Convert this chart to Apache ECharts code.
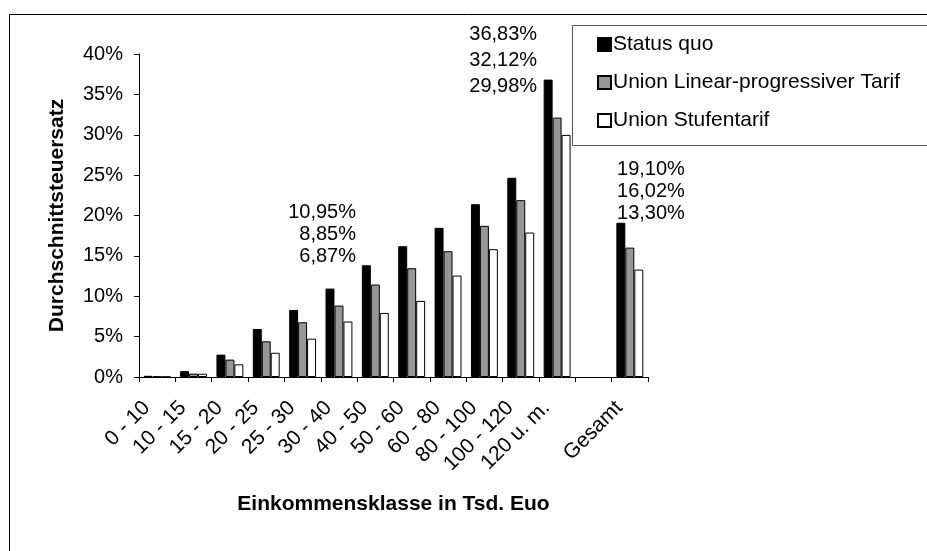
<!DOCTYPE html>
<html>
<head>
<meta charset="utf-8">
<script src="https://cdn.jsdelivr.net/npm/echarts@6/dist/echarts.min.js"></script>
<style>
html,body{margin:0;padding:0;background:#fff;}
#chart{width:927px;height:551px;}
</style>
</head>
<body>
<div id="chart"></div>
<script>
const categories = ['0 - 10','10 - 15','15 - 20','20 - 25','25 - 30','30 - 40','40 - 50','50 - 60','60 - 80','80 - 100','100 - 120','120 u. m.','','Gesamt'];
const statusQuo = [0.15, 0.72, 2.77, 5.95, 8.30, 10.95, 13.84, 16.20, 18.47, 21.40, 24.67, 36.83, null, 19.10];
const linearProg = [0.06, 0.42, 2.15, 4.42, 6.78, 8.85, 11.45, 13.47, 15.58, 18.72, 21.90, 32.12, null, 16.02];
const stufentarif = [0.03, 0.40, 1.57, 3.00, 4.75, 6.87, 7.93, 9.42, 12.56, 15.83, 17.89, 29.98, null, 13.30];
const seriesNames = ['Status quo', 'Union Linear-progressiver Tarif', 'Union Stufentarif'];
const yTicks = [0, 5, 10, 15, 20, 25, 30, 35, 40];
const labeledCategories = ['30 - 40', '120 u. m.', 'Gesamt'];

const FONT = 'Liberation Sans, Arial, sans-serif';
const fmt = v => v.toFixed(2).replace('.', ',') + '%';

// label placement (style only)
const labelStyle = {
  '30 - 40': {offset: [26, -21], lineHeight: 22},
  '120 u. m.': {offset: [-11, 20], lineHeight: 26},
  'Gesamt': {offset: [64, 2], lineHeight: 22}
};

const sqData = statusQuo.map((v, i) => {
  const cat = categories[i];
  if (labeledCategories.indexOf(cat) >= 0) {
    const st = labelStyle[cat];
    return {
      value: v,
      label: {
        show: true,
        position: 'top',
        distance: 0,
        align: 'right',
        verticalAlign: 'bottom',
        offset: st.offset,
        lineHeight: st.lineHeight,
        fontSize: 20,
        fontFamily: FONT,
        color: '#000',
        formatter: () => [fmt(statusQuo[i]), fmt(linearProg[i]), fmt(stufentarif[i])].join('\n')
      }
    };
  }
  return v;
});

const chart = echarts.init(document.getElementById('chart'), null, {renderer: 'canvas'});
chart.setOption({
  animation: false,
  backgroundColor: '#fff',
  textStyle: {fontFamily: FONT},
  graphic: [
    {type: 'rect', silent: true, z: -10, shape: {x: 9.5, y: 14.5, width: 1000, height: 1000}, style: {fill: 'none', stroke: '#000', lineWidth: 1}},
    {type: 'rect', silent: true, z: 0, shape: {x: 572.5, y: 25.5, width: 500, height: 120}, style: {fill: '#fff', stroke: '#555', lineWidth: 1}}
  ],
  grid: {left: 139, right: 279, top: 54, bottom: 174, containLabel: false},
  legend: {
    orient: 'vertical',
    left: 597,
    top: 34,
    padding: 0,
    itemGap: 17,
    itemWidth: 13,
    itemHeight: 13,
    icon: 'rect',
    z: 5,
    textStyle: {fontSize: 21, fontFamily: FONT, color: '#000', padding: [0, 0, 0, -3]},
    data: seriesNames
  },
  xAxis: {
    type: 'category',
    data: categories,
    name: 'Einkommensklasse in Tsd. Euo',
    nameLocation: 'middle',
    nameGap: 117,
    nameTextStyle: {fontSize: 21, fontWeight: 'bold', color: '#000', fontFamily: FONT},
    axisLine: {lineStyle: {color: '#000', width: 1}},
    axisTick: {show: true, length: 5, lineStyle: {color: '#000'}},
    axisLabel: {interval: 0, rotate: 45, margin: 17, padding: [0, 15, 0, 0], fontSize: 21, color: '#000', fontFamily: FONT}
  },
  yAxis: {
    type: 'value',
    min: yTicks[0],
    max: yTicks[yTicks.length - 1],
    interval: yTicks[1] - yTicks[0],
    name: 'Durchschnittsteuersatz',
    nameLocation: 'middle',
    nameGap: 71,
    nameTextStyle: {fontSize: 21, fontWeight: 'bold', color: '#000', fontFamily: FONT},
    axisLine: {show: true, lineStyle: {color: '#000', width: 1}},
    axisTick: {show: true, length: 5, lineStyle: {color: '#000'}},
    splitLine: {show: false},
    axisLabel: {formatter: '{value}%', margin: 16, fontSize: 20, color: '#000', fontFamily: FONT}
  },
  series: [
    {
      name: seriesNames[0], type: 'bar', data: sqData,
      barGap: '0%', barCategoryGap: '26%',
      itemStyle: {color: '#000', borderColor: '#000', borderWidth: 1}
    },
    {
      name: seriesNames[1], type: 'bar', data: linearProg,
      barGap: '0%', barCategoryGap: '26%',
      itemStyle: {color: '#969696', borderColor: '#000', borderWidth: 1}
    },
    {
      name: seriesNames[2], type: 'bar', data: stufentarif,
      barGap: '0%', barCategoryGap: '26%',
      itemStyle: {color: '#fff', borderColor: '#000', borderWidth: 1}
    }
  ]
});
</script>
</body>
</html>
